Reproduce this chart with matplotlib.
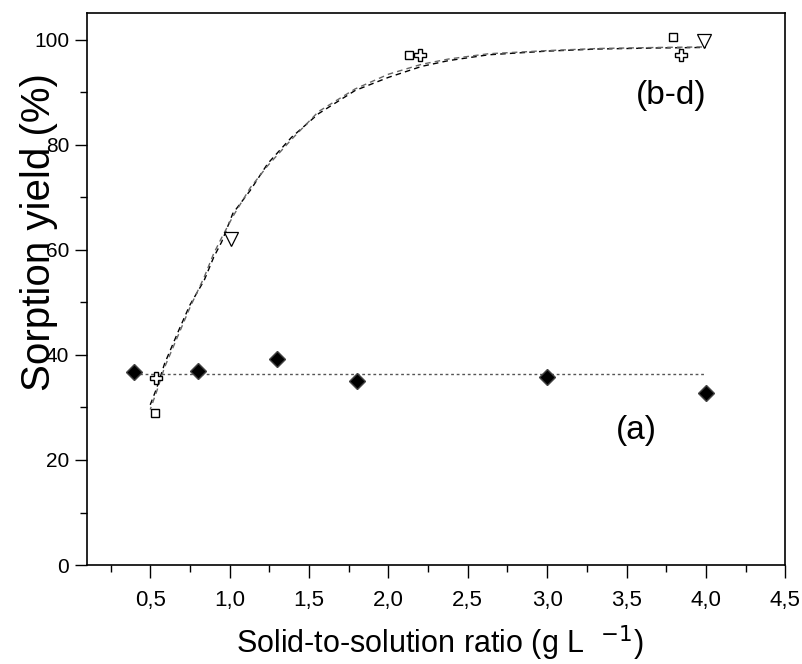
import matplotlib
matplotlib.use('Agg')
import matplotlib.pyplot as plt
from matplotlib.ticker import MultipleLocator, FuncFormatter

# (a) filled diamonds
a_x = [0.40, 0.80, 1.30, 1.80, 3.00, 4.00]
a_y = [36.8, 36.9, 39.2, 35.0, 35.7, 32.8]
a_mean_x = [0.40, 4.00]
a_mean_y = [36.3, 36.3]

# (b) open squares, (c) open crosses, (d) open triangles
b_x = [0.53, 2.13, 3.79]
b_y = [29.0, 97.1, 100.4]
c_x = [0.535, 2.20, 3.84]
c_y = [35.6, 97.0, 97.0]
d_x = [1.01, 3.99]
d_y = [62.0, 99.8]

# fitted curves
fit_x = [0.50, 0.54, 0.59, 0.68, 0.75, 0.84, 0.90, 0.95, 1.02, 1.13, 1.24,
         1.39, 1.56, 1.79, 2.00, 2.21, 2.38, 2.63, 3.00, 3.32, 3.70, 4.00]
fit1_y = [30.5, 33.6, 38.3, 44.7, 49.5, 54.2, 58.6, 61.5, 66.9, 71.3, 76.4,
          81.4, 85.9, 90.3, 92.8, 94.9, 96.0, 97.1, 97.8, 98.2, 98.4, 98.5]
fit2_y = [29.6, 33.0, 37.6, 44.0, 49.0, 54.8, 59.3, 62.3, 66.3, 71.8, 76.0,
          81.0, 86.3, 90.6, 93.4, 95.3, 96.3, 97.3, 97.9, 98.3, 98.5, 98.6]

plt.rcParams['font.family'] = ['Liberation Sans', 'DejaVu Sans']

fig = plt.figure(figsize=(8.03, 6.64), dpi=100)
ax = fig.add_axes([0.108, 0.149, 0.870, 0.831])

ax.plot(a_mean_x, a_mean_y, linestyle=(0, (2, 2)), color='#555555', lw=1)
ax.plot(fit_x, fit1_y, linestyle=(0, (4, 3)), color='black', lw=1)
ax.plot(fit_x, fit2_y, linestyle=(2, (4, 3)), color='#666666', lw=1)

ax.plot(a_x, a_y, 'D', color='black', markersize=8.5,
        markeredgecolor='#444444', markeredgewidth=1, zorder=5)
ax.plot(b_x, b_y, 's', markersize=5.5, markerfacecolor='white',
        markeredgecolor='black', markeredgewidth=1, zorder=5)
ax.plot(c_x, c_y, 'P', markersize=8, markerfacecolor='white',
        markeredgecolor='black', markeredgewidth=1, zorder=5)
ax.plot(d_x, d_y, 'v', markersize=10, markerfacecolor='white',
        markeredgecolor='black', markeredgewidth=0.9, zorder=5)

ax.text(3.78, 89.4, '(b-d)', fontsize=24, ha='center', va='center')
ax.text(3.56, 25.7, '(a)', fontsize=24, ha='center', va='center')

ax.set_xlim(0.1, 4.5)
ax.set_ylim(0, 105)
ax.xaxis.set_major_locator(MultipleLocator(0.5))
ax.xaxis.set_minor_locator(MultipleLocator(0.25))
ax.yaxis.set_major_locator(MultipleLocator(20))
ax.yaxis.set_minor_locator(MultipleLocator(10))
ax.xaxis.set_major_formatter(FuncFormatter(lambda v, p: f'{v:.1f}'.replace('.', ',')))
ax.tick_params(which='major', direction='out', length=9, width=1, labelsize=15)
ax.tick_params(which='minor', direction='out', length=5, width=1)
ax.tick_params(axis='x', pad=9, labelsize=16)
for s in ax.spines.values():
    s.set_linewidth(1.2)

ax.set_ylabel('Sorption yield (%)', fontsize=29)
ax.yaxis.set_label_coords(-0.041, 0.603)
ax.set_xlabel(r'Solid-to-solution ratio (g L  $^{-1}$)', fontsize=22)
ax.xaxis.set_label_coords(0.506, -0.105)

fig.savefig('out.png', dpi=100)
